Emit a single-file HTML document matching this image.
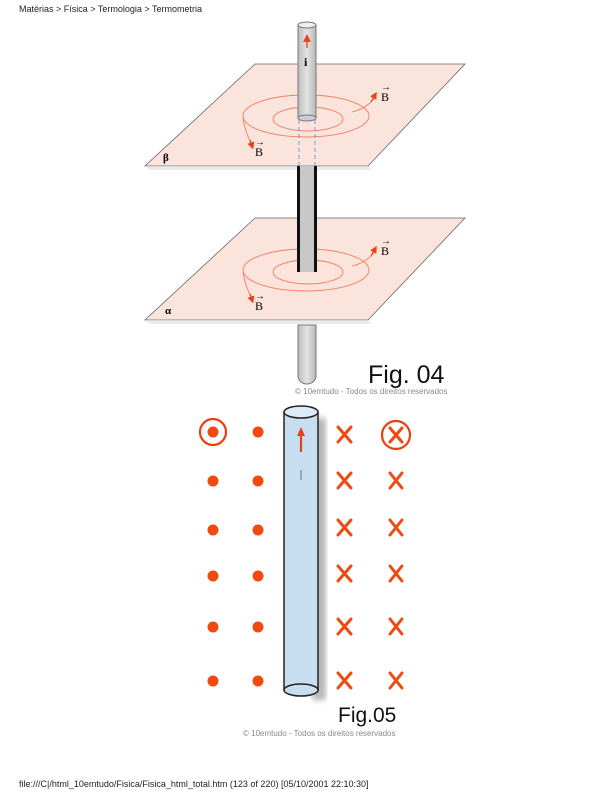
<!DOCTYPE html>
<html><head><meta charset="utf-8"><style>
html,body{margin:0;padding:0;background:#fff;}
svg{display:block;}
</style></head><body>
<svg width="612" height="792" viewBox="0 0 612 792" xmlns="http://www.w3.org/2000/svg" font-family="Liberation Sans, sans-serif">
<defs>
<marker id="ah" markerWidth="6" markerHeight="6" refX="3" refY="3" orient="auto"><path d="M0,0 L6,3 L0,6 z" fill="#e8401a"/></marker>
<linearGradient id="rod" x1="0" x2="1"><stop offset="0" stop-color="#bdbdbd"/><stop offset="0.5" stop-color="#e2e2e2"/><stop offset="1" stop-color="#b8b8b8"/></linearGradient>
<filter id="bl"><feGaussianBlur stdDeviation="3"/></filter>
</defs>
<text x="19" y="12" font-size="9" fill="#222">Matérias &gt; Física &gt; Termologia &gt; Termometria</text>

<!-- plane beta -->
<polygon points="255,64 465,64 368,166 145,166" fill="#fbe4dc" stroke="#666" stroke-width="0.8"/>
<polygon points="145,166 368,166 372,170 150,170" fill="#ddd" opacity="0.6"/>
<path d="M375,97 Q368,108 352,112" fill="none" stroke="#f08060" stroke-width="0.9"/>
<ellipse cx="306" cy="116" rx="63" ry="21" fill="none" stroke="#f08060" stroke-width="0.9"/>
<path d="M243,118 Q245,132 252,145" fill="none" stroke="#f08060" stroke-width="0.9"/>
<path d="M371,102 L375,95" stroke="#e8401a" stroke-width="1.2" marker-end="url(#ah)"/>
<path d="M250,140 L252,146" stroke="#e8401a" stroke-width="1.2" marker-end="url(#ah)"/>
<ellipse cx="308" cy="119" rx="35" ry="12" fill="none" stroke="#f08060" stroke-width="0.9"/>
<line x1="299" y1="120" x2="299" y2="166" stroke="#6fa0d0" stroke-dasharray="4,3"/>
<line x1="315" y1="120" x2="315" y2="166" stroke="#6fa0d0" stroke-dasharray="4,3"/>
<!-- top rod -->
<rect x="298" y="25" width="18" height="93" fill="url(#rod)" stroke="#777" stroke-width="1"/>
<ellipse cx="307" cy="25" rx="9" ry="3" fill="#eee" stroke="#777"/>
<ellipse cx="307" cy="118" rx="9" ry="3" fill="#ccd" stroke="#777"/>
<line x1="307" y1="48" x2="307" y2="38" stroke="#e8401a" stroke-width="1.3" marker-end="url(#ah)"/>
<text x="304" y="66" font-size="12" font-family="Liberation Serif, serif" font-weight="bold">i</text>
<text x="381" y="101" font-size="12" font-family="Liberation Serif, serif">B</text>
<text x="381" y="90" font-size="10">→</text>
<text x="255" y="156" font-size="12" font-family="Liberation Serif, serif">B</text>
<text x="255" y="145" font-size="10">→</text>
<text x="163" y="161" font-size="11" font-family="Liberation Serif, serif" font-weight="bold">β</text>

<!-- middle rod -->
<rect x="298" y="166" width="18" height="106" fill="#c8c8c8"/>
<line x1="298.5" y1="166" x2="298.5" y2="272" stroke="#111" stroke-width="3"/>
<line x1="315.5" y1="166" x2="315.5" y2="272" stroke="#111" stroke-width="3"/>

<!-- plane alpha -->
<polygon points="255,218 465,218 368,320 145,320" fill="#fbe4dc" stroke="#666" stroke-width="0.8"/>
<polygon points="145,320 368,320 372,324 150,324" fill="#ddd" opacity="0.6"/>
<path d="M375,251 Q368,262 352,266" fill="none" stroke="#f08060" stroke-width="0.9"/>
<ellipse cx="306" cy="270" rx="63" ry="21" fill="none" stroke="#f08060" stroke-width="0.9"/>
<path d="M243,272 Q245,286 252,299" fill="none" stroke="#f08060" stroke-width="0.9"/>
<path d="M371,256 L375,249" stroke="#e8401a" stroke-width="1.2" marker-end="url(#ah)"/>
<path d="M250,294 L252,300" stroke="#e8401a" stroke-width="1.2" marker-end="url(#ah)"/>
<ellipse cx="308" cy="272" rx="35" ry="12" fill="none" stroke="#f08060" stroke-width="0.9"/>
<rect x="298" y="200" width="18" height="72" fill="#c8c8c8"/>
<line x1="298.5" y1="200" x2="298.5" y2="272" stroke="#111" stroke-width="3"/>
<line x1="315.5" y1="200" x2="315.5" y2="272" stroke="#111" stroke-width="3"/>
<text x="381" y="255" font-size="12" font-family="Liberation Serif, serif">B</text>
<text x="381" y="244" font-size="10">→</text>
<text x="255" y="310" font-size="12" font-family="Liberation Serif, serif">B</text>
<text x="255" y="299" font-size="10">→</text>
<text x="165" y="314" font-size="11" font-family="Liberation Serif, serif" font-weight="bold">α</text>

<!-- bottom rod -->
<path d="M298,325 L298,376 A9 8 0 0 0 316,376 L316,325 Z" fill="url(#rod)" stroke="#777"/>
<text x="368" y="383" font-size="25" fill="#111">Fig. 04</text>
<text x="295" y="394" font-size="8" fill="#888">© 10emtudo - Todos os direitos reservados</text>

<!-- Fig 05 -->
<rect x="312" y="418" width="14" height="282" fill="#888" opacity="0.6" filter="url(#bl)"/>
<rect x="284" y="412" width="34" height="278" fill="#c6def0" stroke="#222" stroke-width="1.5"/>
<ellipse cx="301" cy="690" rx="17" ry="6" fill="#c6def0" stroke="#222" stroke-width="1.5"/>
<path d="M284,690 A17 6 0 0 1 318,690" fill="none" stroke="#222" stroke-dasharray="2,2" stroke-width="1"/>
<ellipse cx="301" cy="412" rx="17" ry="6" fill="#dcebf6" stroke="#222" stroke-width="1.5"/>
<line x1="301" y1="452" x2="301" y2="433" stroke="#e8401a" stroke-width="2.2"/>
<path d="M297,436 L301,427 L305,436 z" fill="#e8401a"/>
<line x1="301" y1="470" x2="301" y2="480" stroke="#555" stroke-width="0.8"/>

<g fill="#f04a10">
<circle cx="213" cy="432" r="5.5"/><circle cx="258" cy="432" r="5.5"/>
<circle cx="213" cy="481" r="5.5"/><circle cx="258" cy="481" r="5.5"/>
<circle cx="213" cy="530" r="5.5"/><circle cx="258" cy="530" r="5.5"/>
<circle cx="213" cy="576" r="5.5"/><circle cx="258" cy="576" r="5.5"/>
<circle cx="213" cy="627" r="5.5"/><circle cx="258" cy="627" r="5.5"/>
<circle cx="213" cy="681" r="5.5"/><circle cx="258" cy="681" r="5.5"/>
</g>
<circle cx="213" cy="432" r="13" fill="none" stroke="#e84010" stroke-width="2.2"/>
<circle cx="396" cy="435" r="14" fill="none" stroke="#e84010" stroke-width="2.2"/>
<g stroke="#f04a10" stroke-width="3" stroke-linecap="round">
<path d="M338,427 L351,442 M351,427 L338,442"/>
<path d="M390,428 L402,442 M402,428 L390,442"/>
<path d="M338,473 L351,488 M351,473 L338,488"/>
<path d="M390,473 L402,488 M402,473 L390,488"/>
<path d="M338,520 L351,535 M351,520 L338,535"/>
<path d="M390,520 L402,535 M402,520 L390,535"/>
<path d="M338,566 L351,581 M351,566 L338,581"/>
<path d="M390,566 L402,581 M402,566 L390,581"/>
<path d="M338,619 L351,634 M351,619 L338,634"/>
<path d="M390,619 L402,634 M402,619 L390,634"/>
<path d="M338,673 L351,688 M351,673 L338,688"/>
<path d="M390,673 L402,688 M402,673 L390,688"/>
</g>
<text x="338" y="722" font-size="21" fill="#111">Fig.05</text>
<text x="243" y="736" font-size="8" fill="#888">© 10emtudo - Todos os direitos reservados</text>

<text x="19" y="787" font-size="9" fill="#222">file:///C|/html_10emtudo/Fisica/Fisica_html_total.htm (123 of 220) [05/10/2001 22:10:30]</text>
</svg>
</body></html>
